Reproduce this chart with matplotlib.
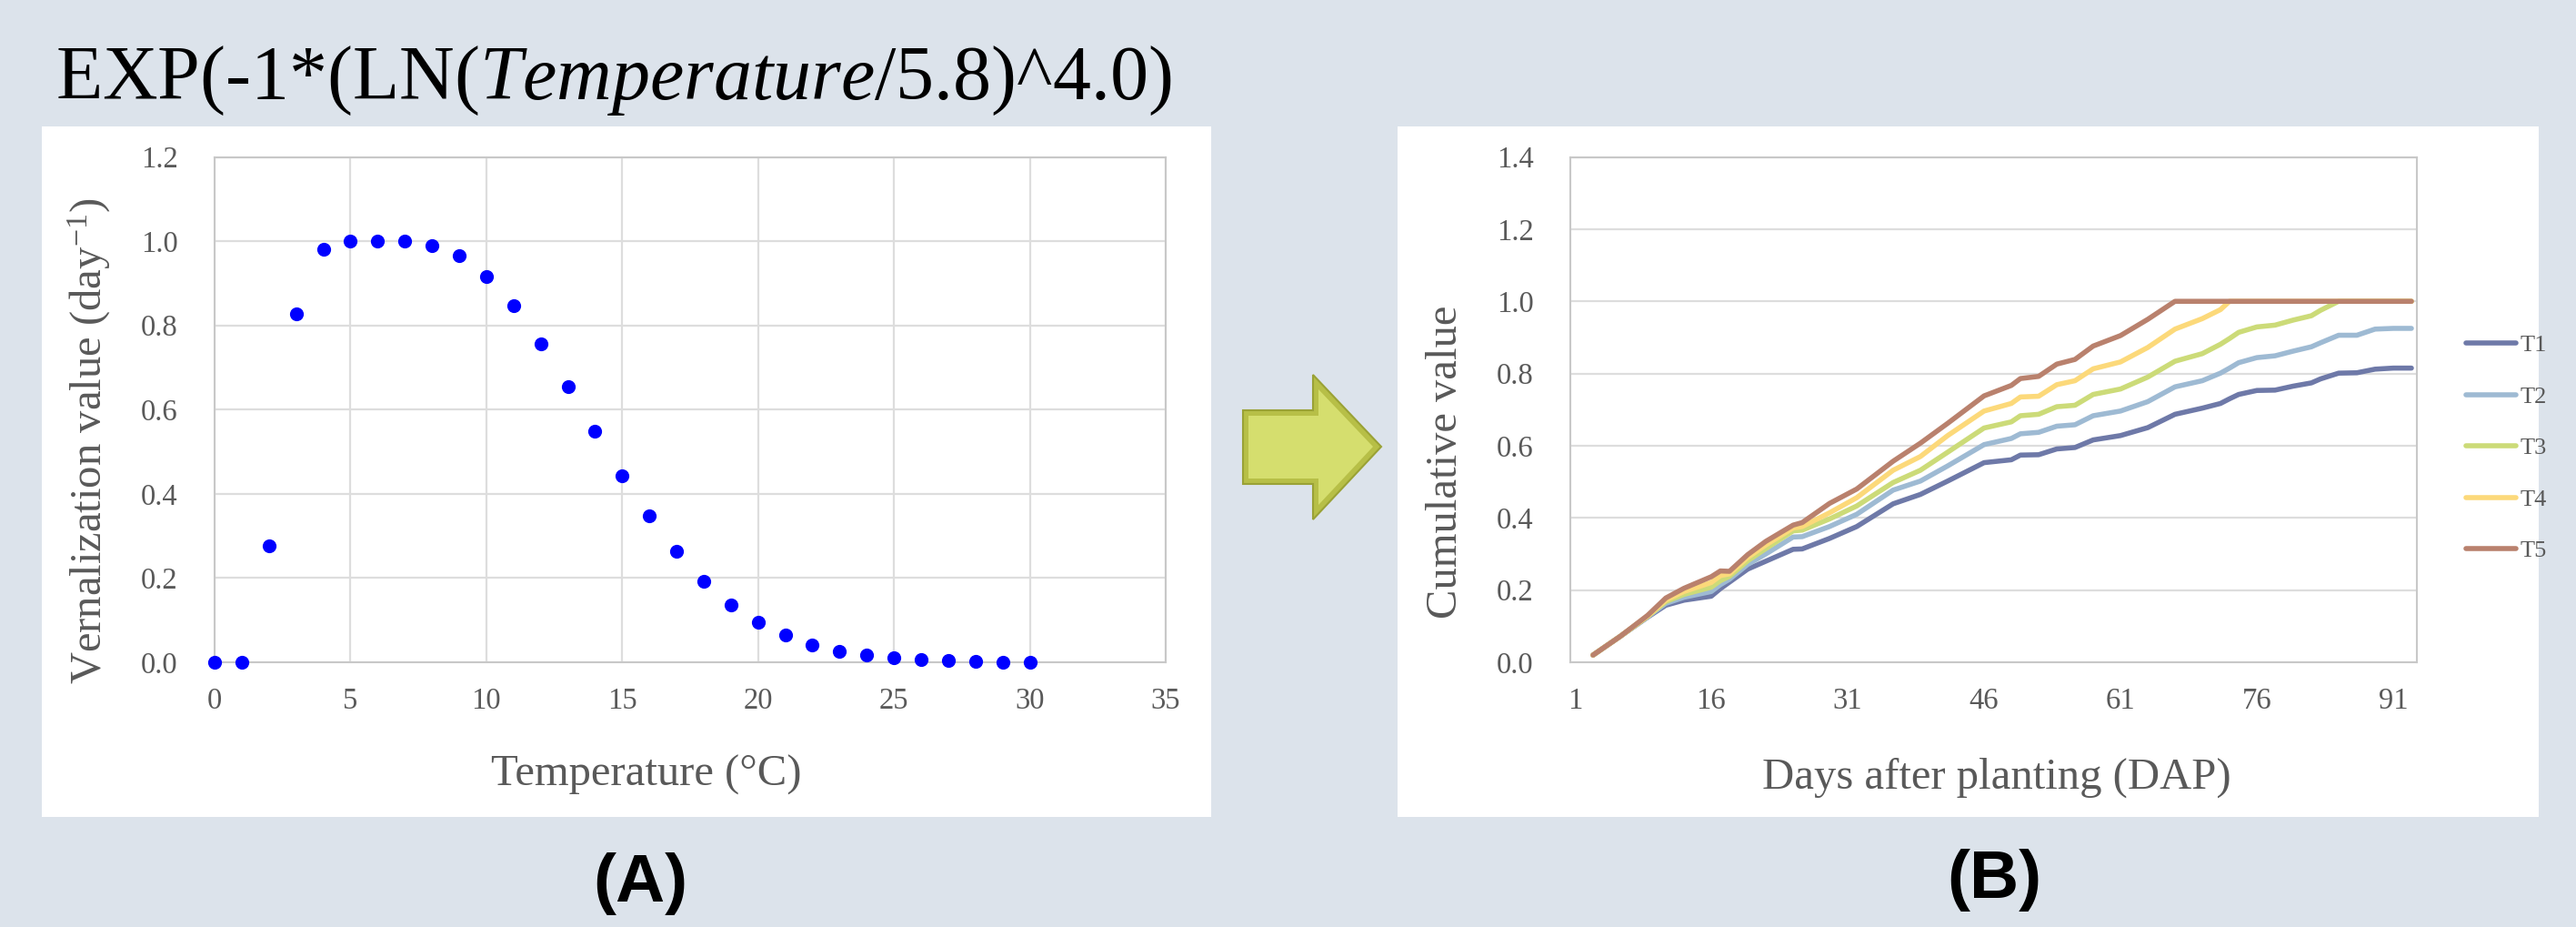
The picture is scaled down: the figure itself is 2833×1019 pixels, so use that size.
import matplotlib.pyplot as plt
from matplotlib.patches import Rectangle, Polygon

plt.rcParams['font.family'] = ['Liberation Serif', 'DejaVu Serif']
plt.rcParams['mathtext.fontset'] = 'custom'
plt.rcParams['mathtext.rm'] = 'Liberation Serif'
plt.rcParams['mathtext.it'] = 'Liberation Serif:italic'

# ----- panel A data -----
temperature = list(range(0, 31))
vern_value = [0.0, 0.0, 0.277, 0.828, 0.981, 1.0, 1.0, 1.0, 0.99, 0.965, 0.916,
              0.846, 0.757, 0.655, 0.548, 0.443, 0.347, 0.263, 0.193, 0.137, 0.095,
              0.064, 0.042, 0.027, 0.017, 0.011, 0.007, 0.004, 0.002, 0.001, 0.001]

# ----- panel B data -----
days = [3, 6, 9, 11, 13, 16, 17, 18, 20, 22, 25, 26, 29, 32, 36, 39, 42, 46, 49, 50,
        52, 54, 56, 58, 61, 64, 67, 70, 72, 73, 74, 76, 78, 80, 82, 83, 85, 87, 89, 91, 93]
t1 = [0.02, 0.072, 0.125, 0.158, 0.172, 0.183, 0.204, 0.222, 0.258, 0.280, 0.313, 0.314,
      0.343, 0.376, 0.439, 0.465, 0.502, 0.553, 0.561, 0.574, 0.575, 0.591, 0.595, 0.616,
      0.628, 0.650, 0.687, 0.704, 0.717, 0.730, 0.742, 0.753, 0.754, 0.765, 0.774, 0.785,
      0.801, 0.802, 0.812, 0.815, 0.815]
t2 = [0.02, 0.072, 0.126, 0.163, 0.180, 0.196, 0.215, 0.230, 0.271, 0.300, 0.347, 0.348,
      0.376, 0.410, 0.477, 0.502, 0.544, 0.603, 0.620, 0.633, 0.637, 0.654, 0.658, 0.683,
      0.696, 0.722, 0.763, 0.780, 0.801, 0.815, 0.830, 0.844, 0.849, 0.862, 0.874, 0.885,
      0.906, 0.906, 0.923, 0.925, 0.925]
t3 = [0.02, 0.072, 0.127, 0.168, 0.188, 0.208, 0.226, 0.238, 0.281, 0.315, 0.364, 0.366,
      0.397, 0.433, 0.498, 0.532, 0.582, 0.649, 0.666, 0.683, 0.687, 0.708, 0.712, 0.742,
      0.757, 0.790, 0.834, 0.855, 0.881, 0.897, 0.914, 0.929, 0.934, 0.948, 0.960, 0.975,
      1.0, 1.0, 1.0, 1.0, 1.0]
t4 = [0.02, 0.072, 0.128, 0.172, 0.196, 0.221, 0.240, 0.245, 0.290, 0.325, 0.372, 0.376,
      0.414, 0.456, 0.532, 0.570, 0.628, 0.696, 0.717, 0.735, 0.737, 0.769, 0.780, 0.813,
      0.832, 0.872, 0.923, 0.952, 0.977, 1.0, 1.0, 1.0, 1.0, 1.0, 1.0, 1.0,
      1.0, 1.0, 1.0, 1.0, 1.0]
t5 = [0.02, 0.072, 0.130, 0.178, 0.205, 0.237, 0.253, 0.252, 0.298, 0.335, 0.380, 0.387,
      0.440, 0.480, 0.557, 0.607, 0.662, 0.738, 0.767, 0.786, 0.792, 0.826, 0.839, 0.876,
      0.905, 0.950, 1.0, 1.0, 1.0, 1.0, 1.0, 1.0, 1.0, 1.0, 1.0, 1.0,
      1.0, 1.0, 1.0, 1.0, 1.0]
series_names = ['T1', 'T2', 'T3', 'T4', 'T5']
series_colors = ['#6E79A8', '#9EBAD3', '#CCDB78', '#FCD97A', '#B9816D']

W, H = 2833, 1019
BG = '#DCE3EB'
GREY = '#595959'


def fx(x):
    return x / W


def fy(y):
    return 1 - y / H


fig = plt.figure(figsize=(W / 100, H / 100), dpi=100, facecolor=BG)

# white chart panels (behind the axes)
for x0, x1 in [(46, 1332), (1537, 2792)]:
    fig.patches.append(Rectangle((fx(x0), fy(898)), fx(x1 - x0), (898 - 139) / H,
                                 transform=fig.transFigure, facecolor='white',
                                 edgecolor='none', zorder=-10))


def style_axes(ax, vgrid):
    ax.set_facecolor('white')
    for s in ax.spines.values():
        s.set_color('#C8C8C8')
        s.set_linewidth(1.5)
    ax.grid(axis='y', color='#DDDDDD', linewidth=1.6)
    if vgrid:
        ax.grid(axis='x', color='#DDDDDD', linewidth=1.6)
    ax.set_axisbelow(True)
    ax.tick_params(length=0, labelsize=23.5, labelcolor=GREY)
    ax.tick_params(axis='y', pad=29)
    ax.tick_params(axis='x', pad=20)


# ----- (A) scatter -----
axA = fig.add_axes([fx(236), fy(728), fx(1282 - 236), (728 - 172.5) / H])
style_axes(axA, True)
axA.scatter(temperature, vern_value, s=120, color='#0000FF', zorder=3, clip_on=False,
            linewidths=0)
axA.set_xlim(0, 35)
axA.set_ylim(0, 1.2)
axA.set_xticks(range(0, 36, 5))
axA.set_yticks([0, 0.2, 0.4, 0.6, 0.8, 1.0, 1.2])
axA.set_yticklabels([f'{v:.1f}' for v in axA.get_yticks()])

fig.text(fx(98), fy(485), r'Vernalization value (day$^{\mathrm{-1}}$)', rotation=90,
         ha='center', va='center', fontsize=35, color=GREY)
fig.text(fx(711), fy(852), 'Temperature (°C)', ha='center', va='center',
         fontsize=35, color=GREY)

# ----- (B) cumulative lines -----
axB = fig.add_axes([fx(1727), fy(728), fx(2658 - 1727), (728 - 172.5) / H])
style_axes(axB, False)
for vals, name, col in zip([t1, t2, t3, t4, t5], series_names, series_colors):
    axB.plot(days, vals, color=col, linewidth=4.0, label=name,
             solid_capstyle='round', solid_joinstyle='round')
axB.set_xlim(0.5, 93.6)
axB.set_ylim(0, 1.4)
axB.set_xticks([1, 16, 31, 46, 61, 76, 91])
axB.set_yticks([0, 0.2, 0.4, 0.6, 0.8, 1.0, 1.2, 1.4])
axB.set_yticklabels([f'{v:.1f}' for v in axB.get_yticks()])

leg = axB.legend(loc='upper left', bbox_to_anchor=(fx(2712), fy(368)),
                 bbox_transform=fig.transFigure, frameon=False, fontsize=19,
                 handlelength=2.1, handletextpad=0.15, labelspacing=1.25,
                 borderpad=0, borderaxespad=0)
for t in leg.get_texts():
    t.set_color(GREY)

fig.text(fx(1590), fy(508), 'Cumulative value', rotation=90, ha='center',
         va='center', fontsize=35, color=GREY)
fig.text(fx(2196), fy(855), 'Days after planting (DAP)', ha='center', va='center',
         fontsize=35, color=GREY)

# ----- title and panel letters -----
fig.text(fx(61), fy(109), r'EXP(-1*(LN($\mathit{Temperature}$/5.8)^4.0)',
         ha='left', va='baseline', fontsize=60.5, color='black')
fig.text(fx(704), fy(972), '(A)', family='Liberation Sans', weight='bold',
         ha='center', va='center', fontsize=54)
fig.text(fx(2193), fy(968), '(B)', family='Liberation Sans', weight='bold',
         ha='center', va='center', fontsize=54)

# ----- arrow between panels -----
outer = [(1367, 451), (1444, 451), (1444, 412), (1519, 491), (1444, 571),
         (1444, 532), (1367, 532)]
inner = [(1373, 457), (1450, 457), (1450, 428), (1510, 491), (1450, 555),
         (1450, 526), (1373, 526)]
fig.patches.append(Polygon([(fx(x), fy(y)) for x, y in outer], closed=True,
                           transform=fig.transFigure, facecolor='#B7BF47',
                           edgecolor='#9AA236', linewidth=1.5))
fig.patches.append(Polygon([(fx(x), fy(y)) for x, y in inner], closed=True,
                           transform=fig.transFigure, facecolor='#D5DE6E',
                           edgecolor='none'))

fig.savefig('out.png', dpi=100, facecolor=BG)
